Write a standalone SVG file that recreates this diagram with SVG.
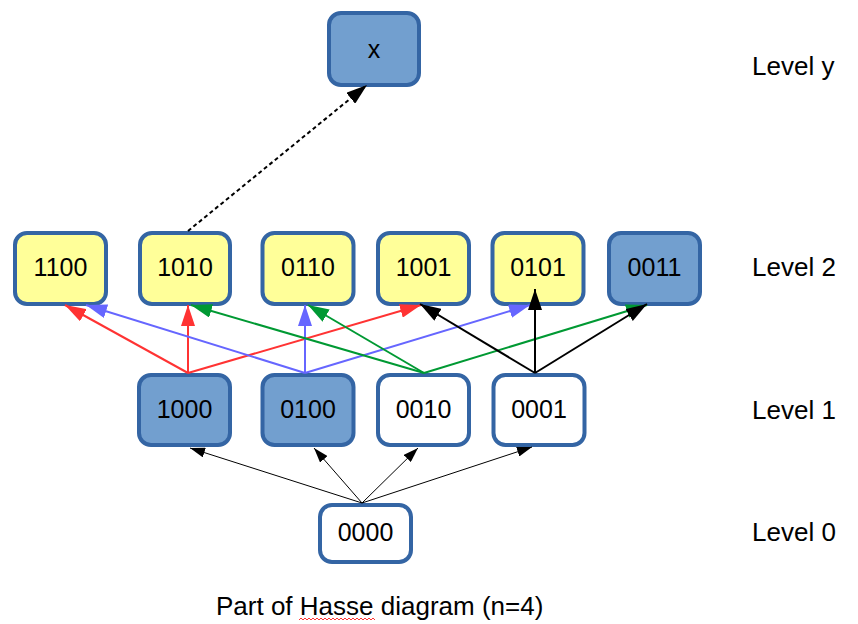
<svg xmlns="http://www.w3.org/2000/svg" width="858" height="624" viewBox="0 0 858 624">
<style>
.n rect{stroke:#3465a4;stroke-width:4}
.b rect{fill:#729fcf}
.y rect{fill:#ffff99}
.w rect{fill:#ffffff}
text{font-family:"Liberation Sans",Arial,sans-serif;font-size:26px;fill:#000}
.c text{text-anchor:middle;font-size:25px}
.r{stroke:#ff3333}
.bl{stroke:#6666ff}
.g{stroke:#009933}
.k{stroke:#000}
</style>
<defs>
<marker id="ar" markerUnits="userSpaceOnUse" markerWidth="21" markerHeight="14" refX="21" refY="7" orient="auto"><path d="M0,0 L21,7 L0,14 z" fill="#ff3333"/></marker>
<marker id="ab" markerUnits="userSpaceOnUse" markerWidth="21" markerHeight="14" refX="21" refY="7" orient="auto"><path d="M0,0 L21,7 L0,14 z" fill="#6666ff"/></marker>
<marker id="ag" markerUnits="userSpaceOnUse" markerWidth="21" markerHeight="14" refX="21" refY="7" orient="auto"><path d="M0,0 L21,7 L0,14 z" fill="#009933"/></marker>
<marker id="ak" markerUnits="userSpaceOnUse" markerWidth="21" markerHeight="14" refX="21" refY="7" orient="auto"><path d="M0,0 L21,7 L0,14 z" fill="#000"/></marker>
<marker id="as" markerUnits="userSpaceOnUse" markerWidth="15" markerHeight="10" refX="15" refY="5" orient="auto"><path d="M0,0 L15,5 L0,10 z" fill="#000"/></marker>
</defs>
<g id="nx" class="n b c"><rect x="329" y="13" width="90" height="72" rx="12"/><text x="374" y="58">x</text></g>
<g id="n1100" class="n y c"><rect x="15" y="233" width="91" height="71" rx="12"/><text x="60.5" y="276">1100</text></g>
<g id="n1010" class="n y c"><rect x="140" y="233" width="90" height="71" rx="12"/><text x="185" y="276">1010</text></g>
<g id="n0110" class="n y c"><rect x="262.5" y="233" width="91" height="71" rx="12"/><text x="308" y="276">0110</text></g>
<g id="n1001" class="n y c"><rect x="378" y="233" width="91" height="71" rx="12"/><text x="423.5" y="276">1001</text></g>
<g id="n0101" class="n y c"><rect x="492.5" y="233" width="91" height="71" rx="12"/><text x="538" y="276">0101</text></g>
<g id="n0011" class="n b c"><rect x="609" y="233" width="91" height="71" rx="12"/><text x="654.5" y="276">0011</text></g>
<g id="n1000" class="n b c"><rect x="139" y="375" width="91" height="70" rx="12"/><text x="184.5" y="418">1000</text></g>
<g id="n0100" class="n b c"><rect x="262.5" y="375" width="91" height="70" rx="12"/><text x="308" y="418">0100</text></g>
<g id="n0010" class="n w c"><rect x="378" y="375" width="91" height="70" rx="12"/><text x="423.5" y="418">0010</text></g>
<g id="n0001" class="n w c"><rect x="493.5" y="375" width="91" height="70" rx="12"/><text x="539" y="418">0001</text></g>
<g id="n0000" class="n w c"><rect x="320" y="505" width="91" height="57" rx="12"/><text x="365.5" y="541">0000</text></g>
<g id="connectors" fill="none">
<g stroke="#000" stroke-width="1" marker-end="url(#as)">
<line x1="362" y1="503" x2="190" y2="448"/>
<line x1="362" y1="503" x2="314" y2="448"/>
<line x1="362" y1="503" x2="418" y2="448"/>
<line x1="362" y1="503" x2="532" y2="447"/>
</g>
<g stroke-width="2">
<line class="r" x1="188" y1="373" x2="65" y2="305" marker-end="url(#ar)"/>
<line class="r" x1="188" y1="373" x2="188" y2="305" marker-end="url(#ar)"/>
<line class="r" x1="188" y1="373" x2="421" y2="305" marker-end="url(#ar)"/>
<line class="bl" x1="305" y1="373" x2="86" y2="305" marker-end="url(#ab)"/>
<line class="bl" x1="305" y1="373" x2="305" y2="305" marker-end="url(#ab)"/>
<line class="bl" x1="305" y1="373" x2="530" y2="305" marker-end="url(#ab)"/>
<line class="g" x1="424" y1="373" x2="191" y2="305" marker-end="url(#ag)"/>
<line class="g" x1="424" y1="373" x2="308" y2="305" marker-end="url(#ag)"/>
<line class="g" x1="424" y1="373" x2="647" y2="305" marker-end="url(#ag)"/>
<line class="k" x1="535" y1="373" x2="420" y2="304" marker-end="url(#ak)"/>
<line class="k" x1="535" y1="373" x2="535" y2="289" marker-end="url(#ak)"/>
<line class="k" x1="535" y1="373" x2="647" y2="304" marker-end="url(#ak)"/>
<line x1="188" y1="231" x2="367" y2="85" stroke="#000" stroke-dasharray="4 3" marker-end="url(#ak)"/>
</g>
</g>
<g id="labels">
<text x="752" y="75">Level y</text>
<text x="752" y="276">Level 2</text>
<text x="752" y="419">Level 1</text>
<text x="752" y="541">Level 0</text>
<text x="216" y="615">Part of Hasse diagram (n=4)</text>
<path d="M299,620 l2,-2 l2,2 l2,-2 l2,2 l2,-2 l2,2 l2,-2 l2,2 l2,-2 l2,2 l2,-2 l2,2 l2,-2 l2,2 l2,-2 l2,2 l2,-2 l2,2 l2,-2 l2,2 l2,-2 l2,2 l2,-2 l2,2 l2,-2 l2,2 l2,-2 l2,2 l2,-2 l2,2 l2,-2 l2,2 l2,-2 l2,2 l2,-2 l2,2 l2,-2 l2,2" fill="none" stroke="#ff0000" stroke-width="0.8"/>
</g>
</svg>
